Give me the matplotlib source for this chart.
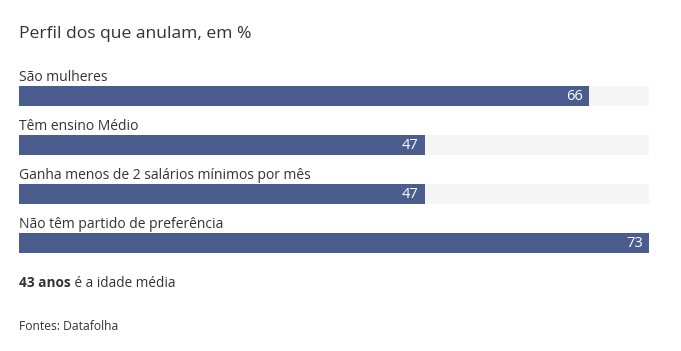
import matplotlib
matplotlib.use("Agg")
import matplotlib.pyplot as plt

plt.rcParams['font.family'] = ['Open Sans', 'DejaVu Sans']

# data
categorias = ['São mulheres', 'Têm ensino Médio',
              'Ganha menos de 2 salários mínimos por mês',
              'Não têm partido de preferência']
valores = [66, 47, 47, 73]
titulo = 'Perfil dos que anulam, em %'
nota_negrito = '43 anos'
nota_resto = ' é a idade média'
fonte = 'Fontes: Datafolha'

W, H = 681, 351
fig = plt.figure(figsize=(W / 100, H / 100), dpi=100, facecolor='white')
# axes in pixel coords vertically, bar length in data units horizontally
ax = fig.add_axes([19 / W, 0, 630 / W, 1])
ax.set_xlim(0, max(valores))
ax.set_ylim(H, 0)
ax.axis('off')

cor_barra = '#4b5d8f'
cor_fundo = '#f5f5f5'
cor_texto = '#333333'

y0, passo, alt = 96, 49, 20
for i, (cat, v) in enumerate(zip(categorias, valores)):
    y = y0 + passo * i
    ax.barh(y, max(valores), height=alt, color=cor_fundo, left=0)
    ax.barh(y, v, height=alt, color=cor_barra, left=0)
    ax.text(0, y - alt / 2 - 5, cat, fontsize=10, color=cor_texto,
            ha='left', va='baseline')
    ax.text(v - 0.7, y + 0.5, str(v), fontsize=10.5, color='white',
            ha='right', va='center')

fig.text(19 / W, 1 - 38 / H, titulo, fontsize=12.6, color=cor_texto,
         ha='left', va='baseline')

t = fig.text(19 / W, 1 - 287 / H, nota_negrito, fontsize=9.8, color=cor_texto,
             fontweight='bold', ha='left', va='baseline')
fig.canvas.draw()
bb = t.get_window_extent()
fig.text(bb.x1 / W, 1 - 287 / H, nota_resto, fontsize=9.8, color=cor_texto,
         ha='left', va='baseline')

fig.text(19 / W, 1 - 330 / H, fonte, fontsize=8.7, color=cor_texto,
         ha='left', va='baseline')

fig.savefig('out.png', dpi=100, facecolor='white')
